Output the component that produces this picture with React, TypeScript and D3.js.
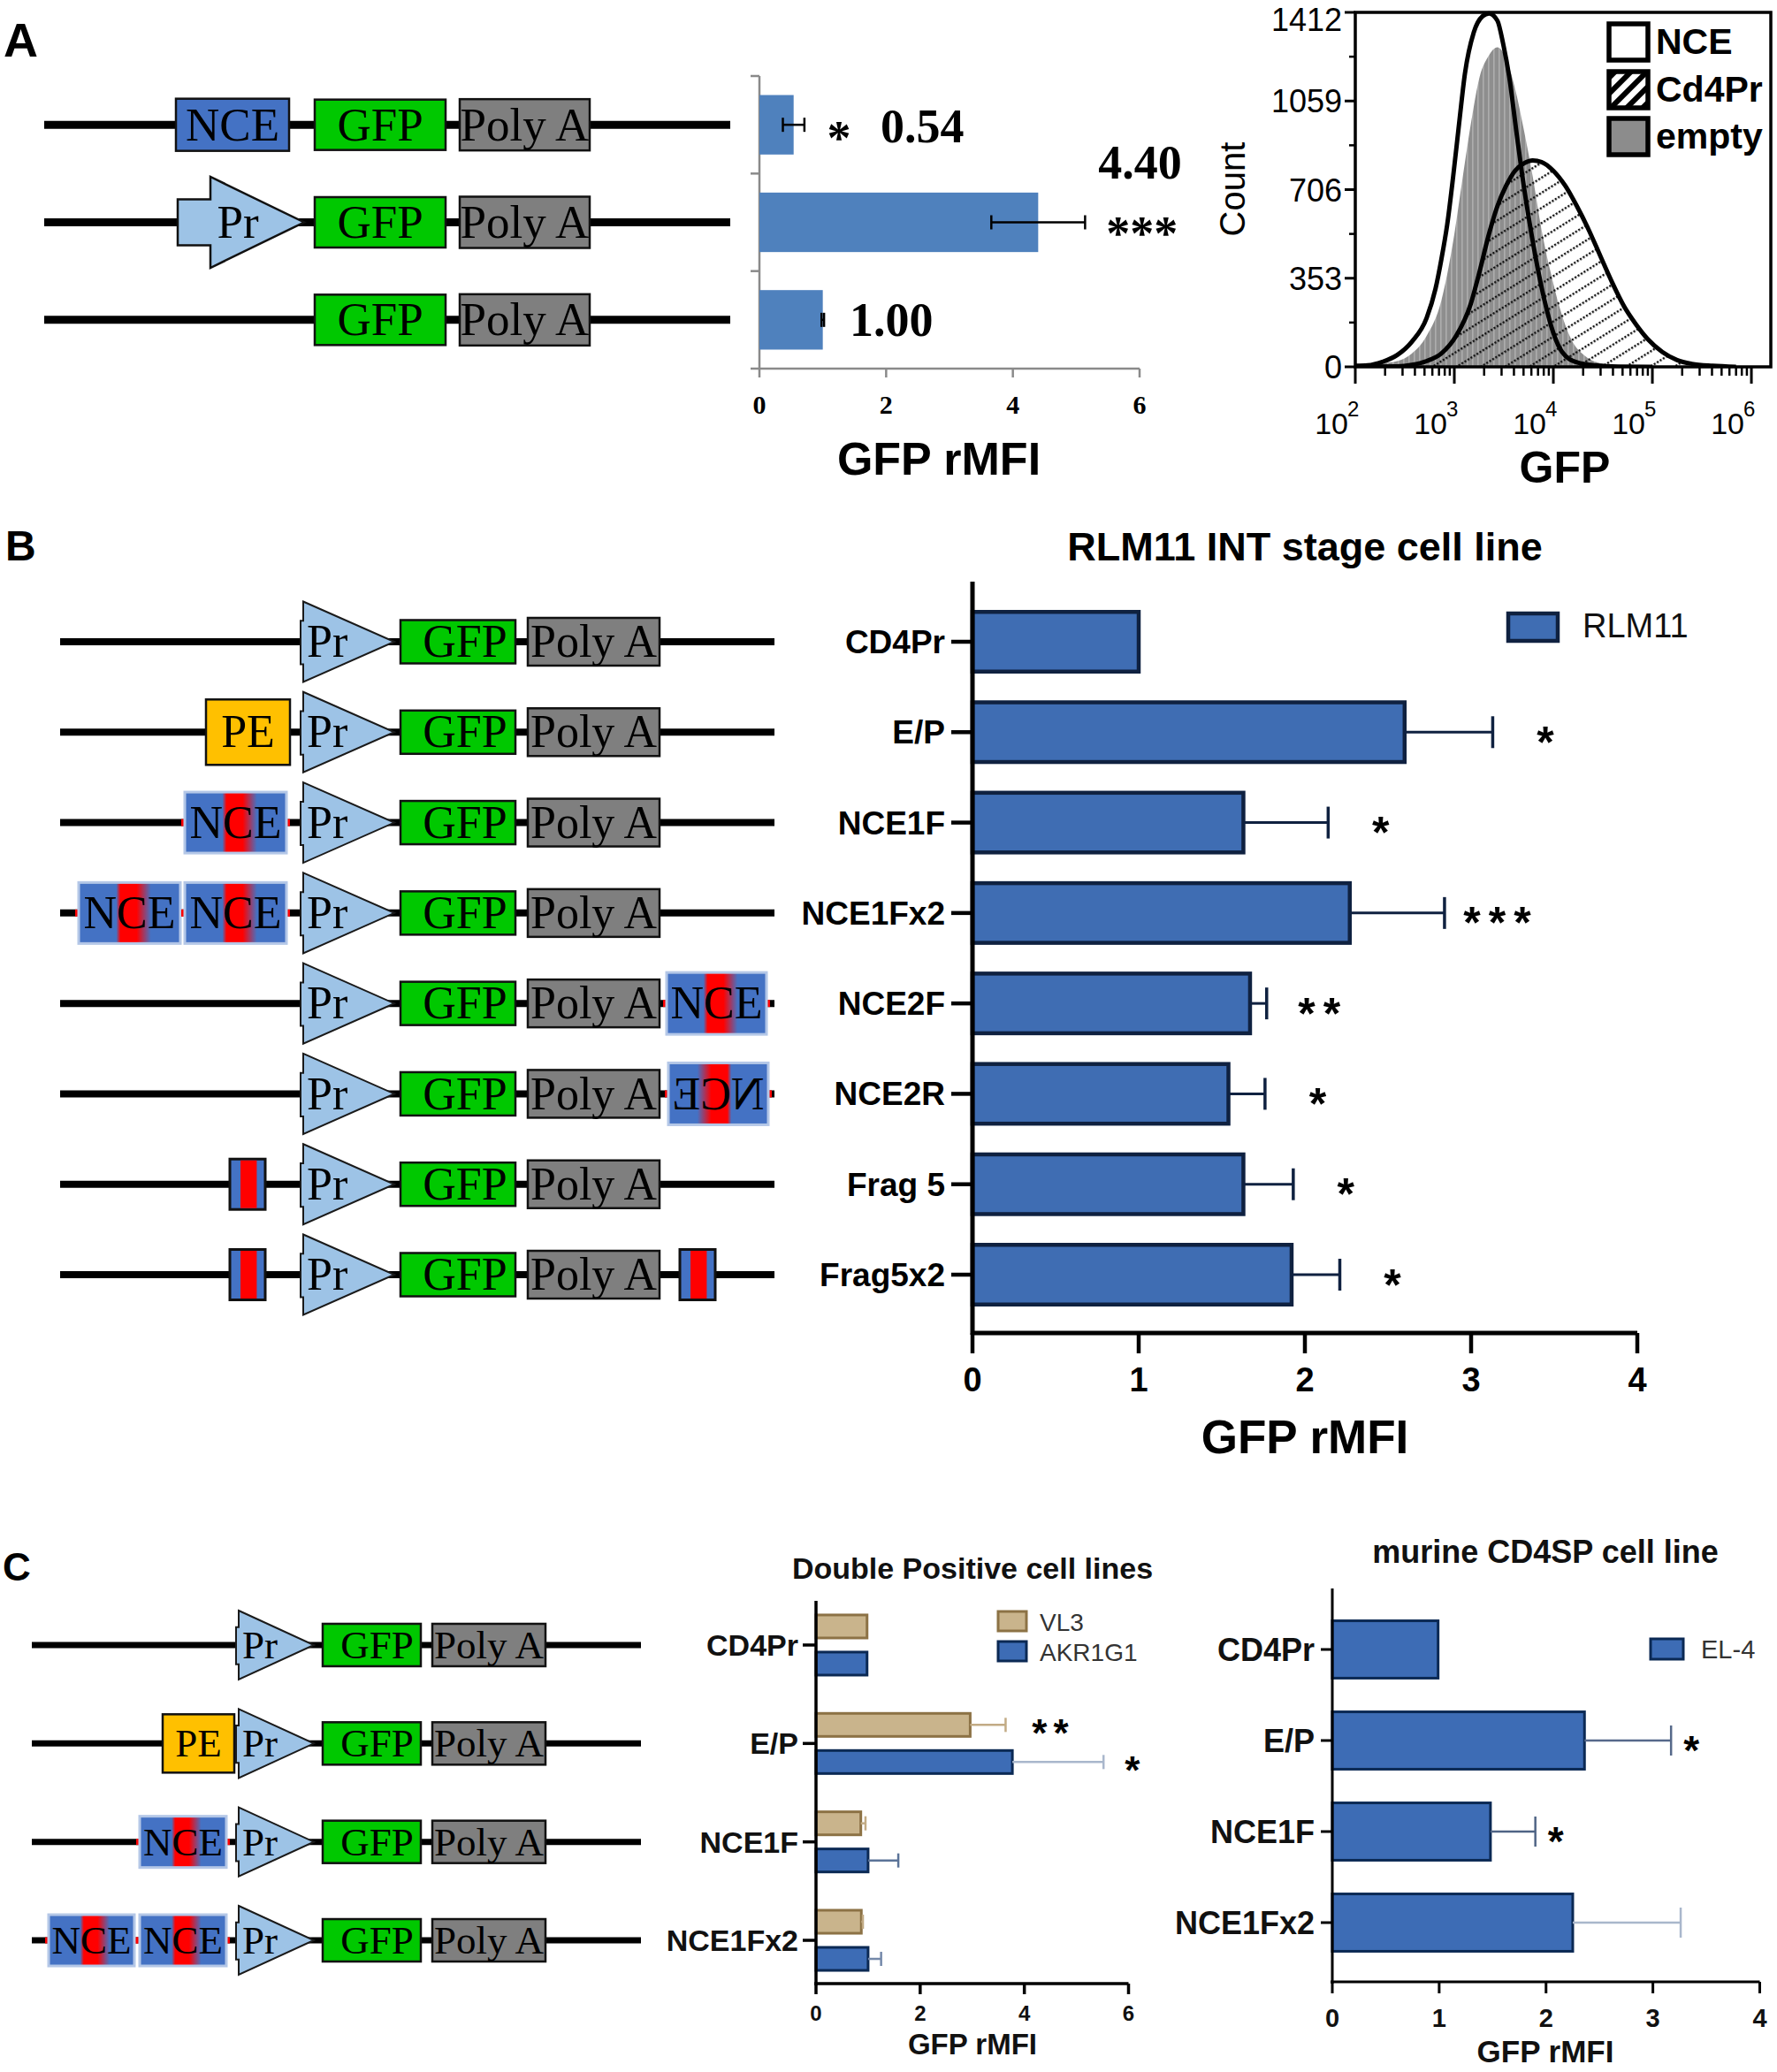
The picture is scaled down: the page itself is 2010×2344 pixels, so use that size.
import React from 'react';
import * as d3 from 'd3';

const SANS = '"Liberation Sans", Arial, Helvetica, sans-serif';
const SERIF = '"Liberation Serif", "Times New Roman", Times, serif';

// ================= DATA =================
// Panel A – bar chart
const aRows = ['NCE-GFP', 'Pr-GFP', 'GFP'];
const aValues = [0.54, 4.4, 1.0];
const aErrors = [0.17, 0.74, 0.02];
const aValueLabels = ['0.54', '4.40', '1.00'];
const aStars = ['*', '***', ''];
const aTicks = [0, 2, 4, 6];
const aConstructs = [
  ['NCE', 'GFP', 'PolyA'],
  ['PrArrow', 'GFP', 'PolyA'],
  ['GFP', 'PolyA'],
];

// Panel A – histogram  ([log10 GFP, count])
const histYTicks = [0, 353, 706, 1059, 1412];
const histDecades = [2, 3, 4, 5, 6];
const histLegend = ['NCE', 'Cd4Pr', 'empty'];
const histNCE: [number, number][] = [
  [2.0, 4], [2.125, 6], [2.274, 20], [2.423, 47], [2.571, 100], [2.72, 194], [2.81, 311],
  [2.869, 428], [2.929, 569], [2.988, 757], [3.048, 968], [3.107, 1168], [3.196, 1332],
  [3.286, 1397], [3.351, 1408], [3.435, 1379], [3.494, 1285], [3.554, 1156], [3.628, 933],
  [3.688, 757], [3.762, 569], [3.836, 405], [3.911, 264], [4.0, 135], [4.089, 59],
  [4.238, 18], [4.417, 6], [4.655, 1], [5.0, 0],
];
const histEmpty: [number, number][] = [
  [2.0, 10], [2.274, 15], [2.423, 23], [2.571, 53], [2.72, 123], [2.869, 264], [2.988, 499],
  [3.077, 734], [3.167, 968], [3.256, 1156], [3.345, 1238], [3.435, 1273], [3.524, 1227],
  [3.613, 1109], [3.702, 945], [3.792, 757], [3.881, 546], [3.97, 381], [4.06, 241],
  [4.179, 111], [4.327, 41], [4.506, 12], [4.804, 2], [5.2, 0],
];
const histCd4Pr: [number, number][] = [
  [2.0, 1], [2.423, 2], [2.571, 8], [2.72, 23], [2.869, 53], [3.018, 123], [3.167, 252],
  [3.256, 381], [3.345, 522], [3.435, 640], [3.524, 722], [3.613, 781], [3.702, 810],
  [3.792, 822], [3.881, 816], [4.0, 781], [4.119, 722], [4.238, 640], [4.357, 546],
  [4.476, 440], [4.595, 335], [4.714, 241], [4.833, 170], [4.952, 111], [5.101, 59],
  [5.25, 27], [5.399, 12], [5.607, 4], [5.845, 0],
];

// Panel B
const bCategories = ['CD4Pr', 'E/P', 'NCE1F', 'NCE1Fx2', 'NCE2F', 'NCE2R', 'Frag 5', 'Frag5x2'];
const bValues = [1.0, 2.6, 1.63, 2.27, 1.67, 1.54, 1.63, 1.92];
const bErrors = [0, 0.53, 0.51, 0.57, 0.1, 0.22, 0.3, 0.29];
const bStars = ['', '*', '*', '***', '**', '*', '*', '*'];
const bTicks = [0, 1, 2, 3, 4];
const bConstructs = [
  ['Pr', 'GFP', 'PolyA'],
  ['PE', 'Pr', 'GFP', 'PolyA'],
  ['NCE1', 'Pr', 'GFP', 'PolyA'],
  ['NCE2', 'NCE1', 'Pr', 'GFP', 'PolyA'],
  ['Pr', 'GFP', 'PolyA', 'NCEdown'],
  ['Pr', 'GFP', 'PolyA', 'NCEdownRev'],
  ['Frag', 'Pr', 'GFP', 'PolyA'],
  ['Frag', 'Pr', 'GFP', 'PolyA', 'FragDown'],
];

// Panel C
const cCategories = ['CD4Pr', 'E/P', 'NCE1F', 'NCE1Fx2'];
const dpSeries = ['VL3', 'AKR1G1'];
const dpVL3 = [0.98, 2.96, 0.86, 0.87];
const dpVL3Err = [0, 0.68, 0.09, 0.03];
const dpAKR = [0.98, 3.77, 1.0, 1.0];
const dpAKRErr = [0, 1.75, 0.58, 0.25];
const dpVL3Stars = ['', '**', '', ''];
const dpAKRStars = ['', '*', '', ''];
const dpTicks = [0, 2, 4, 6];
const elSeries = ['EL-4'];
const elValues = [0.99, 2.36, 1.48, 2.25];
const elErrors = [0, 0.81, 0.42, 1.01];
const elStars = ['', '*', '*', ''];
const elTicks = [0, 1, 2, 3, 4];
const cConstructs = [
  ['Pr', 'GFP', 'PolyA'],
  ['PE', 'Pr', 'GFP', 'PolyA'],
  ['NCE1', 'Pr', 'GFP', 'PolyA'],
  ['NCE2', 'NCE1', 'Pr', 'GFP', 'PolyA'],
];

// ================= STYLES / LAYOUT =================
const dpVL3ErrColor = ['#c2ab85', '#c2ab85', '#c2ab85', '#c2ab85'];
const dpAKRErrColor = ['#5a7296', '#a9b7cc', '#5b7398', '#7589aa'];
const elErrColor = ['#4f6485', '#56698a', '#4f6485', '#a9b7cc'];

type Slot = { x0: number; x1: number; h: number };
type Layout = { line: [number, number]; lineW: number; font: number; gfpShift: number; slots: Record<string, Slot> };

const layoutA: Layout = {
  line: [50, 826], lineW: 9, font: 53, gfpShift: 0,
  slots: {
    NCE: { x0: 199, x1: 327, h: 59 },
    GFP: { x0: 356, x1: 504, h: 57 },
    PolyA: { x0: 520, x1: 667, h: 58 },
    PrArrow: { x0: 201, x1: 344, h: 103 },
  },
};
const layoutB: Layout = {
  line: [68, 876], lineW: 8, font: 52, gfpShift: 8,
  slots: {
    Pr: { x0: 343, x1: 446, h: 91 },
    GFP: { x0: 453, x1: 583, h: 49 },
    PolyA: { x0: 597, x1: 746, h: 54 },
    PE: { x0: 233, x1: 328, h: 74 },
    NCE1: { x0: 209, x1: 324, h: 69 },
    NCE2: { x0: 89, x1: 204, h: 69 },
    NCEdown: { x0: 754, x1: 867, h: 70 },
    NCEdownRev: { x0: 756, x1: 869, h: 70 },
    Frag: { x0: 260, x1: 300, h: 57 },
    FragDown: { x0: 769, x1: 809, h: 57 },
  },
};
const layoutC: Layout = {
  line: [36, 725], lineW: 7, font: 45, gfpShift: 6,
  slots: {
    Pr: { x0: 270, x1: 355, h: 78 },
    GFP: { x0: 365, x1: 476, h: 48 },
    PolyA: { x0: 489, x1: 617, h: 48 },
    PE: { x0: 184, x1: 265, h: 66 },
    NCE1: { x0: 158, x1: 256, h: 58 },
    NCE2: { x0: 55, x1: 152, h: 58 },
  },
};

const BLUE_EL = '#4472c4';
const GFP_GREEN = '#00c800';
const POLY_GRAY = '#7f7f7f';
const PR_BLUE = '#9dc3e6';
const PE_ORANGE = '#ffc000';

function Element({ type, y, L }: { type: string; y: number; L: Layout }) {
  const s = L.slots[type];
  const { x0, x1, h } = s;
  const w = x1 - x0;
  const cx = (x0 + x1) / 2;
  const fs = L.font;
  const tb = y + fs * 0.33;
  const top = y - h / 2;
  const txt = (t: string, x: number, anchor: string = 'middle') => (
    <text x={x} y={tb} fontSize={fs} fontFamily={SERIF} textAnchor={anchor} fill="#000">{t}</text>
  );
  if (type === 'GFP') {
    return (
      <g>
        <rect x={x0} y={top} width={w} height={h} fill={GFP_GREEN} stroke="#111" strokeWidth={2.5} />
        {txt('GFP', cx + L.gfpShift)}
      </g>
    );
  }
  if (type === 'PolyA') {
    return (
      <g>
        <rect x={x0} y={top} width={w} height={h} fill={POLY_GRAY} stroke="#111" strokeWidth={2.5} />
        {txt('Poly A', cx)}
      </g>
    );
  }
  if (type === 'PE') {
    return (
      <g>
        <rect x={x0} y={top} width={w} height={h} fill={PE_ORANGE} stroke="#111" strokeWidth={2.5} />
        {txt('PE', cx)}
      </g>
    );
  }
  if (type === 'NCE') {
    return (
      <g>
        <rect x={x0} y={top} width={w} height={h} fill={BLUE_EL} stroke="#111" strokeWidth={2.5} />
        {txt('NCE', cx)}
      </g>
    );
  }
  if (type === 'NCE1' || type === 'NCE2' || type === 'NCEdown' || type === 'NCEdownRev') {
    const rev = type === 'NCEdownRev';
    return (
      <g transform={rev ? `translate(${2 * cx},0) scale(-1,1)` : undefined}>
        <rect x={x0 - 4} y={y - L.lineW / 2} width={5} height={L.lineW} fill="#ff0000" />
        <rect x={x1 - 1} y={y - L.lineW / 2} width={5} height={L.lineW} fill="#ff0000" />
        <rect x={x0} y={top} width={w} height={h} fill="url(#nceGrad)" stroke="#b4c7e7" strokeWidth={3} />
        {txt('NCE', cx)}
      </g>
    );
  }
  if (type === 'Frag' || type === 'FragDown') {
    return (
      <g>
        <rect x={x0} y={top} width={w} height={h} fill={BLUE_EL} stroke="#111" strokeWidth={3} />
        <rect x={x0 + w * 0.3} y={top + 1.5} width={w * 0.46} height={h - 3} fill="#ff0000" />
      </g>
    );
  }
  if (type === 'Pr') {
    const pts = [
      [x0, top], [x1, y], [x0, top + h], [x0, top + h * 0.78], [x0 - 3, top + h * 0.78],
      [x0 - 3, top + h * 0.24], [x0, top + h * 0.24],
    ].map((p) => p.join(',')).join(' ');
    return (
      <g>
        <polygon points={pts} fill={PR_BLUE} stroke="#1a1a1a" strokeWidth={2} strokeLinejoin="miter" />
        {txt('Pr', x0 + 4, 'start')}
      </g>
    );
  }
  if (type === 'PrArrow') {
    const stemX = x0 + 37;
    const sh = 26;
    const pts = [
      [x0, y - sh], [stemX, y - sh], [stemX, top], [x1, y], [stemX, top + h], [stemX, y + sh], [x0, y + sh],
    ].map((p) => p.join(',')).join(' ');
    return (
      <g>
        <polygon points={pts} fill={PR_BLUE} stroke="#111" strokeWidth={2.5} />
        {txt('Pr', x0 + 68)}
      </g>
    );
  }
  return null;
}

function Construct({ elements, y, L }: { elements: string[]; y: number; L: Layout }) {
  return (
    <g>
      <line x1={L.line[0]} x2={L.line[1]} y1={y} y2={y} stroke="#000" strokeWidth={L.lineW} />
      {elements.map((el, i) => (
        <Element key={i} type={el} y={y} L={L} />
      ))}
    </g>
  );
}

function Star({ x, cy, str, fs, ls = 0, serif = false, anchor = 'middle' }: any) {
  const k = serif ? 0.5 : 0.57;
  return (
    <text x={x} y={cy + k * fs} fontSize={fs} fontWeight="bold" fontFamily={serif ? SERIF : SANS}
      letterSpacing={ls} textAnchor={anchor} fill="#000">{str}</text>
  );
}

// ================= PANEL A =================
function PanelA() {
  const xA = d3.scaleLinear().domain([0, 6]).range([859, 1289]);
  const yA = d3.scaleBand<string>().domain(aRows).range([86, 417]).paddingInner(0.39).paddingOuter(0.195);
  const bw = yA.bandwidth();
  const step = yA.step();
  const edges = d3.range(aRows.length + 1).map((i) => 86 + i * step);
  return (
    <g>
      <text x={4} y={64} fontSize={54} fontWeight="bold" fontFamily={SANS}>A</text>
      {aConstructs.map((els, i) => (
        <Construct key={i} elements={els} y={(yA(aRows[i]) as number) + bw / 2} L={layoutA} />
      ))}
      <line x1={xA(0)} x2={xA(0)} y1={86} y2={417} stroke="#8a8a8a" strokeWidth={2.5} />
      {edges.map((e, i) => (
        <line key={i} x1={xA(0) - 10} x2={xA(0)} y1={e} y2={e} stroke="#8a8a8a" strokeWidth={2.5} />
      ))}
      <line x1={xA(0)} x2={xA(6)} y1={417} y2={417} stroke="#8a8a8a" strokeWidth={2.5} />
      {aTicks.map((t) => (
        <g key={t}>
          <line x1={xA(t)} x2={xA(t)} y1={417} y2={427} stroke="#8a8a8a" strokeWidth={2.5} />
          <text x={xA(t)} y={468} fontSize={30} fontWeight="bold" fontFamily={SERIF} textAnchor="middle">{t}</text>
        </g>
      ))}
      {aRows.map((r, i) => {
        const y0 = yA(r) as number;
        const cy = y0 + bw / 2;
        const v = aValues[i];
        const e = aErrors[i];
        const xe = xA(v + e);
        return (
          <g key={r}>
            <rect x={xA(0)} y={y0} width={xA(v) - xA(0)} height={bw} fill="#4f81bd" />
            <line x1={xA(v - e)} x2={xA(v + e)} y1={cy} y2={cy} stroke="#000" strokeWidth={2.5} />
            <line x1={xA(v - e)} x2={xA(v - e)} y1={cy - 8} y2={cy + 8} stroke="#000" strokeWidth={2.5} />
            <line x1={xA(v + e)} x2={xA(v + e)} y1={cy - 8} y2={cy + 8} stroke="#000" strokeWidth={2.5} />
            {i === 0 && (
              <g>
                <Star x={xe + 39} cy={cy + 6} str={aStars[i]} fs={54} serif />
                <text x={xe + 86} y={cy + 20} fontSize={54} fontWeight="bold" fontFamily={SERIF}>{aValueLabels[i]}</text>
              </g>
            )}
            {i === 1 && (
              <g>
                <text x={xe + 15} y={y0 - 16} fontSize={54} fontWeight="bold" fontFamily={SERIF}>{aValueLabels[i]}</text>
                <Star x={xe + 24} cy={cy + 3} str={aStars[i]} fs={54} serif anchor="start" />
              </g>
            )}
            {i === 2 && (
              <text x={xe + 29} y={cy + 18} fontSize={54} fontWeight="bold" fontFamily={SERIF}>{aValueLabels[i]}</text>
            )}
          </g>
        );
      })}
      <text x={1062} y={537} fontSize={52} fontWeight="bold" fontFamily={SANS} textAnchor="middle">GFP rMFI</text>
    </g>
  );
}

function Histogram() {
  const xH = d3.scaleLinear().domain([2, 6.196]).range([1533, 2003]);
  const yH = d3.scaleLinear().domain([0, 1412]).range([415, 14]);
  const area = d3.area<[number, number]>().x((d) => xH(d[0])).y0(yH(0)).y1((d) => yH(d[1])).curve(d3.curveMonotoneX);
  const line = d3.line<[number, number]>().x((d) => xH(d[0])).y((d) => yH(d[1])).curve(d3.curveMonotoneX);
  const minorY = histYTicks.slice(0, -1).map((t, i) => (t + histYTicks[i + 1]) / 2);
  const minorX: number[] = [];
  histDecades.forEach((d) => {
    for (let k = 2; k <= 9; k++) {
      const v = d + Math.log10(k);
      if (v < 6.19) minorX.push(v);
    }
  });
  const legendFill = ['#ffffff', 'url(#hatchBold)', '#8c8c8c'];
  const legendY = [27, 81, 134];
  return (
    <g>
      <clipPath id="histClip">
        <rect x={1533} y={10} width={470} height={405} />
      </clipPath>
      <g clipPath="url(#histClip)">
        <path d={area(histNCE) || ''} fill="#ffffff" />
        <path d={area(histEmpty) || ''} fill="url(#grayStripes)" />
        <path d={area(histCd4Pr) || ''} fill="url(#hatch)" />
        <path d={line(histCd4Pr) || ''} fill="none" stroke="#000" strokeWidth={5} />
        <path d={line(histNCE) || ''} fill="none" stroke="#000" strokeWidth={5} />
      </g>
      <rect x={1533} y={14} width={470} height={401} fill="none" stroke="#000" strokeWidth={3.5} />
      {histYTicks.map((t) => (
        <g key={t}>
          <line x1={1521} x2={1533} y1={yH(t)} y2={yH(t)} stroke="#000" strokeWidth={3} />
          <text x={1518} y={Math.max(yH(t) + 13, 35)} fontSize={36} fontFamily={SANS} textAnchor="end">{t}</text>
        </g>
      ))}
      {minorY.map((t) => (
        <line key={t} x1={1526} x2={1533} y1={yH(t)} y2={yH(t)} stroke="#000" strokeWidth={2.5} />
      ))}
      {histDecades.map((d) => (
        <g key={d}>
          <line x1={xH(d)} x2={xH(d)} y1={415} y2={434} stroke="#000" strokeWidth={3} />
          <text x={xH(d) - 8} y={491} fontSize={34} fontFamily={SANS} textAnchor="end">10</text>
          <text x={xH(d) - 9} y={471} fontSize={24} fontFamily={SANS} textAnchor="start">{d}</text>
        </g>
      ))}
      {minorX.map((v, i) => (
        <line key={i} x1={xH(v)} x2={xH(v)} y1={415} y2={425} stroke="#000" strokeWidth={2.5} />
      ))}
      <text x={1408} y={214} fontSize={40} fontFamily={SANS} textAnchor="middle" transform="rotate(-90 1408 214)">Count</text>
      <text x={1770} y={546} fontSize={50} fontWeight="bold" fontFamily={SANS} textAnchor="middle">GFP</text>
      {histLegend.map((name, i) => (
        <g key={name}>
          <rect x={1820} y={legendY[i]} width={44} height={41} fill={legendFill[i]} stroke="#000" strokeWidth={5.5} />
          <text x={1873} y={legendY[i] + 34} fontSize={41} fontWeight="bold" fontFamily={SANS}>{name}</text>
        </g>
      ))}
    </g>
  );
}

// ================= PANEL B =================
function PanelB() {
  const xB = d3.scaleLinear().domain([0, 4]).range([1100, 1852]);
  const yB = d3.scaleBand<string>().domain(bCategories).range([674.85, 1493.15]).paddingInner(0.34).paddingOuter(0.17);
  const bw = yB.bandwidth();
  const navy = '#0f2140';
  return (
    <g>
      <text x={6} y={634} fontSize={48} fontWeight="bold" fontFamily={SANS}>B</text>
      {bConstructs.map((els, i) => (
        <Construct key={i} elements={els} y={(yB(bCategories[i]) as number) + bw / 2} L={layoutB} />
      ))}
      <text x={1476} y={634} fontSize={45} fontWeight="bold" fontFamily={SANS} textAnchor="middle">RLM11 INT stage cell line</text>
      {bCategories.map((c, i) => {
        const y0 = yB(c) as number;
        const cy = y0 + bw / 2;
        const v = bValues[i];
        const e = bErrors[i];
        return (
          <g key={c}>
            <rect x={xB(0)} y={y0} width={xB(v) - xB(0)} height={bw} fill="#3f6db3" stroke={navy} strokeWidth={4.5} />
            {e > 0 && (
              <g>
                <line x1={xB(v)} x2={xB(v + e)} y1={cy} y2={cy} stroke={navy} strokeWidth={3} />
                <line x1={xB(v + e)} x2={xB(v + e)} y1={cy - 18} y2={cy + 18} stroke={navy} strokeWidth={3.5} />
              </g>
            )}
            {bStars[i] && <Star x={xB(v + e) + 64} cy={cy} str={bStars[i]} fs={50} ls={9} />}
            <line x1={1076} x2={1100} y1={cy} y2={cy} stroke="#000" strokeWidth={4.5} />
            <text x={1069} y={cy + 13} fontSize={37} fontWeight="bold" fontFamily={SANS} textAnchor="end">{c}</text>
          </g>
        );
      })}
      <line x1={1100} x2={1100} y1={658} y2={1510} stroke="#000" strokeWidth={5} />
      <line x1={1098} x2={1852} y1={1508} y2={1508} stroke="#000" strokeWidth={5} />
      {bTicks.map((t) => (
        <g key={t}>
          <line x1={xB(t)} x2={xB(t)} y1={1508} y2={1531} stroke="#000" strokeWidth={4.5} />
          <text x={xB(t)} y={1574} fontSize={38} fontWeight="bold" fontFamily={SANS} textAnchor="middle">{t}</text>
        </g>
      ))}
      <text x={1476} y={1644} fontSize={53} fontWeight="bold" fontFamily={SANS} textAnchor="middle">GFP rMFI</text>
      <rect x={1706} y={694} width={56} height={31} fill="#3f6db3" stroke={navy} strokeWidth={4.5} />
      <text x={1790} y={721} fontSize={38} fontFamily={SANS} fill="#111">RLM11</text>
    </g>
  );
}

// ================= PANEL C =================
function PanelC() {
  const xDP = d3.scaleLinear().domain([0, 6]).range([923, 1276.5]);
  const yDP = d3.scaleBand<string>().domain(cCategories).range([1805.3, 2250.7]);
  const ySub = d3.scaleBand<string>().domain(dpSeries).range([-42, 42]).paddingInner(0.38).paddingOuter(0.19);
  const sbw = ySub.bandwidth();
  const step = yDP.step();
  const xEL = d3.scaleLinear().domain([0, 4]).range([1507, 1990.5]);
  const yEL = d3.scaleBand<string>().domain(cCategories).range([1814.5, 2226.5]).paddingInner(0.37).paddingOuter(0.185);
  const ebw = yEL.bandwidth();
  const tan = '#c9b48c';
  const tanStroke = '#8c7245';
  const blue = '#3d6cb5';
  const navy = '#0b2954';
  const dpVals = [dpVL3, dpAKR];
  const dpErrs = [dpVL3Err, dpAKRErr];
  const dpStars = [dpVL3Stars, dpAKRStars];
  const dpFill = [tan, blue];
  const dpStroke = [tanStroke, navy];
  const dpErrCol = [dpVL3ErrColor, dpAKRErrColor];
  return (
    <g>
      <text x={3} y={1788} fontSize={44} fontWeight="bold" fontFamily={SANS}>C</text>
      {cConstructs.map((els, i) => (
        <Construct key={i} elements={els} y={(yDP(cCategories[i]) as number) + step / 2} L={layoutC} />
      ))}

      <text x={1100} y={1786} fontSize={34} fontWeight="bold" fontFamily={SANS} textAnchor="middle" fill="#111">Double Positive cell lines</text>
      {cCategories.map((c, i) => {
        const cy = (yDP(c) as number) + step / 2;
        return (
          <g key={c}>
            {dpSeries.map((s, j) => {
              const y0 = cy + (ySub(s) as number);
              const by = y0 + sbw / 2;
              const v = dpVals[j][i];
              const e = dpErrs[j][i];
              return (
                <g key={s}>
                  <rect x={xDP(0)} y={y0} width={xDP(v) - xDP(0)} height={sbw} fill={dpFill[j]} stroke={dpStroke[j]} strokeWidth={3} />
                  {e > 0 && (
                    <g>
                      <line x1={xDP(v)} x2={xDP(v + e)} y1={by} y2={by} stroke={dpErrCol[j][i]} strokeWidth={2.5} />
                      <line x1={xDP(v + e)} x2={xDP(v + e)} y1={by - 8} y2={by + 8} stroke={dpErrCol[j][i]} strokeWidth={2.5} />
                    </g>
                  )}
                  {dpStars[j][i] && (
                    <Star x={xDP(v + e) + (j === 0 ? 54 : 36)} cy={by} str={dpStars[j][i]} fs={44} ls={7} />
                  )}
                </g>
              );
            })}
            <line x1={908} x2={923} y1={cy} y2={cy} stroke="#000" strokeWidth={3.5} />
            <text x={903} y={cy + 12} fontSize={34} fontWeight="bold" fontFamily={SANS} textAnchor="end" fill="#111">{c}</text>
          </g>
        );
      })}
      <line x1={923} x2={923} y1={1811} y2={2246} stroke="#000" strokeWidth={3.5} />
      <line x1={921} x2={1276.5} y1={2244} y2={2244} stroke="#000" strokeWidth={3.5} />
      {dpTicks.map((t) => (
        <g key={t}>
          <line x1={xDP(t)} x2={xDP(t)} y1={2244} y2={2256} stroke="#000" strokeWidth={3.5} />
          <text x={xDP(t)} y={2286} fontSize={24} fontWeight="bold" fontFamily={SANS} textAnchor="middle" fill="#111">{t}</text>
        </g>
      ))}
      <text x={1100} y={2324} fontSize={33} fontWeight="bold" fontFamily={SANS} textAnchor="middle" fill="#111">GFP rMFI</text>
      {dpSeries.map((s, j) => (
        <g key={s}>
          <rect x={1129} y={1823 + j * 34} width={32} height={22} fill={dpFill[j]} stroke={dpStroke[j]} strokeWidth={3} />
          <text x={1176} y={1845 + j * 34} fontSize={28} fontFamily={SANS} fill="#333">{s}</text>
        </g>
      ))}

      <text x={1748} y={1768} fontSize={36} fontWeight="bold" fontFamily={SANS} textAnchor="middle" fill="#111">murine CD4SP cell line</text>
      {cCategories.map((c, i) => {
        const y0 = yEL(c) as number;
        const cy = y0 + ebw / 2;
        const v = elValues[i];
        const e = elErrors[i];
        return (
          <g key={c}>
            <rect x={xEL(0)} y={y0} width={xEL(v) - xEL(0)} height={ebw} fill={blue} stroke={navy} strokeWidth={3} />
            {e > 0 && (
              <g>
                <line x1={xEL(v)} x2={xEL(v + e)} y1={cy} y2={cy} stroke={elErrColor[i]} strokeWidth={2.5} />
                <line x1={xEL(v + e)} x2={xEL(v + e)} y1={cy - 17} y2={cy + 17} stroke={elErrColor[i]} strokeWidth={2.5} />
              </g>
            )}
            {elStars[i] && <Star x={xEL(v + e) + 23} cy={cy + 1} str={elStars[i]} fs={46} />}
            <line x1={1494} x2={1507} y1={cy} y2={cy} stroke="#000" strokeWidth={3} />
            <text x={1487} y={cy + 13} fontSize={36} fontWeight="bold" fontFamily={SANS} textAnchor="end" fill="#111">{c}</text>
          </g>
        );
      })}
      <line x1={1507} x2={1507} y1={1797} y2={2244} stroke="#000" strokeWidth={3} />
      <line x1={1505} x2={1990.5} y1={2242} y2={2242} stroke="#000" strokeWidth={3} />
      {elTicks.map((t) => (
        <g key={t}>
          <line x1={xEL(t)} x2={xEL(t)} y1={2242} y2={2255} stroke="#000" strokeWidth={3} />
          <text x={xEL(t)} y={2293} fontSize={29} fontWeight="bold" fontFamily={SANS} textAnchor="middle" fill="#111">{t}</text>
        </g>
      ))}
      <text x={1748} y={2333} fontSize={35} fontWeight="bold" fontFamily={SANS} textAnchor="middle" fill="#111">GFP rMFI</text>
      <rect x={1867} y={1854} width={37} height={23} fill={blue} stroke={navy} strokeWidth={3} />
      <text x={1924} y={1876} fontSize={29} fontFamily={SANS} fill="#333">{elSeries[0]}</text>
    </g>
  );
}

export default function App() {
  return (
    <svg width={2010} height={2344} viewBox="0 0 2010 2344"
      style={{ position: 'absolute', left: 0, top: 0, display: 'block', background: '#fff' }}>
      <defs>
        <linearGradient id="nceGrad" x1="0" x2="1" y1="0" y2="0">
          <stop offset="0" stopColor="#4472c4" />
          <stop offset="0.37" stopColor="#4472c4" />
          <stop offset="0.41" stopColor="#ff0000" />
          <stop offset="0.57" stopColor="#ff0000" />
          <stop offset="0.71" stopColor="#4472c4" />
          <stop offset="1" stopColor="#4472c4" />
        </linearGradient>
        <pattern id="grayStripes" patternUnits="userSpaceOnUse" width="6" height="10">
          <rect width="6" height="10" fill="#8e8e8e" />
          <rect x="3" width="1.6" height="10" fill="#adadad" />
        </pattern>
        <pattern id="hatch" patternUnits="userSpaceOnUse" width="12" height="14.5" patternTransform="rotate(-32)">
          <line x1="0" x2="12" y1="7" y2="7" stroke="#111" strokeWidth="2.2" strokeDasharray="2.2 1.8" />
        </pattern>
        <pattern id="hatchBold" patternUnits="userSpaceOnUse" width="18" height="18">
          <rect width="18" height="18" fill="#fff" />
          <path d="M-4.5,4.5 L4.5,-4.5 M0,18 L18,0 M13.5,22.5 L22.5,13.5" stroke="#000" strokeWidth="6" />
        </pattern>
      </defs>
      <rect x={0} y={0} width={2010} height={2344} fill="#fff" />
      <PanelA />
      <Histogram />
      <PanelB />
      <PanelC />
    </svg>
  );
}
